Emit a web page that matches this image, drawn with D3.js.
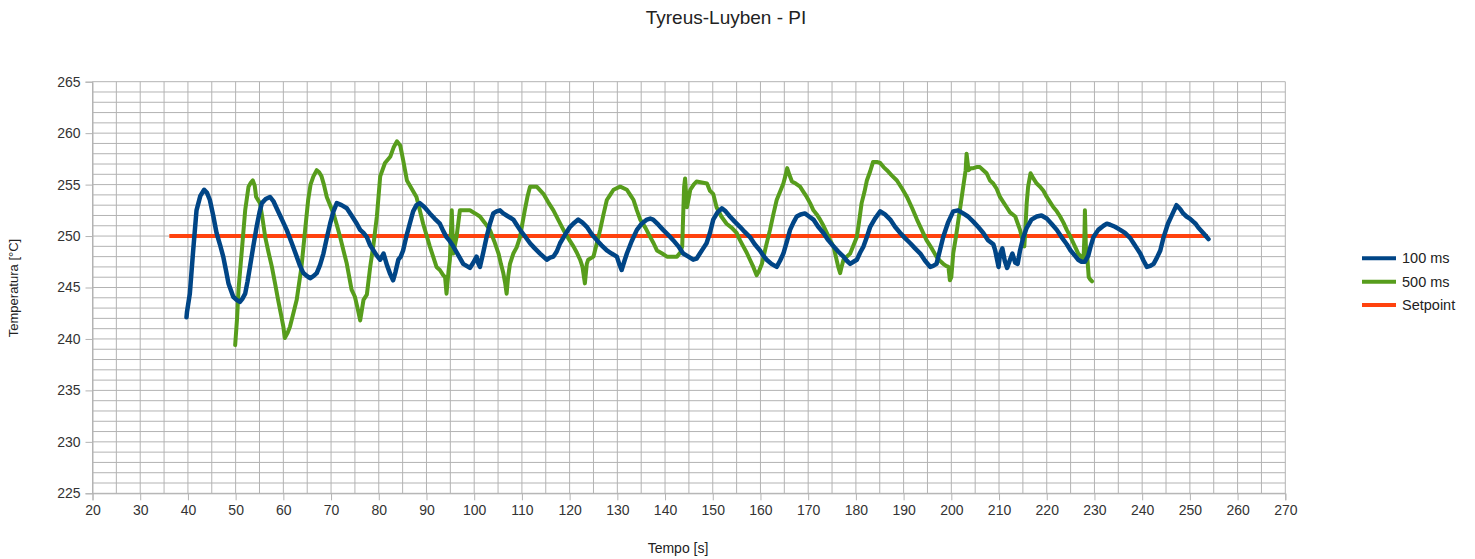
<!DOCTYPE html>
<html>
<head>
<meta charset="utf-8">
<script src="https://cdn.jsdelivr.net/npm/d3@7/dist/d3.min.js"></script>
<style>
  html, body { margin: 0; padding: 0; background: #fff; }
  svg { display: block; font-family: "Liberation Sans", Arial, sans-serif; }
</style>
</head>
<body>
<svg id="chart" width="1475" height="559"></svg>
<script>
// Measured temperature response, 100 ms sampling
const time100 = [39.7, 39.8, 40.4, 41.1, 41.8, 42.6, 43.4, 44.0, 44.6, 45.3, 46.0, 46.7, 47.4, 48.0, 48.5, 49.5, 50.2, 50.9, 51.4, 52.0, 52.5, 53.0, 53.7, 54.4, 55.0, 55.5, 56.3, 57.2, 57.9, 58.6, 59.6, 60.7, 61.7, 62.8, 63.5, 64.2, 65.0, 65.6, 66.3, 67.0, 67.7, 68.4, 69.1, 69.8, 70.5, 71.2, 72.2, 73.3, 74.3, 75.4, 76.1, 76.8, 77.5, 78.2, 78.9, 79.6, 80.3, 81.0, 81.7, 82.4, 83.0, 83.5, 84.1, 84.6, 85.1, 85.8, 86.5, 87.2, 87.9, 88.6, 89.6, 90.7, 91.7, 92.8, 93.5, 94.2, 94.9, 95.6, 96.6, 97.7, 98.4, 99.1, 99.8, 100.5, 100.9, 101.2, 101.9, 102.6, 103.3, 104.0, 104.7, 105.4, 106.1, 106.8, 107.5, 108.2, 108.9, 109.6, 110.6, 111.7, 112.7, 113.8, 114.5, 115.2, 115.9, 116.6, 117.3, 118.0, 119.0, 120.1, 121.0, 121.8, 122.7, 123.6, 124.6, 125.7, 126.7, 127.8, 128.8, 129.9, 130.4, 130.9, 131.5, 132.0, 133.0, 134.1, 135.1, 136.2, 136.9, 137.5, 138.6, 139.6, 140.7, 141.7, 142.8, 143.8, 144.9, 145.9, 146.6, 147.3, 148.0, 148.7, 149.4, 150.1, 151.0, 151.9, 152.7, 153.6, 154.6, 155.7, 156.7, 157.8, 158.8, 159.9, 160.6, 161.3, 162.3, 163.4, 164.1, 164.8, 165.5, 166.2, 166.9, 167.6, 168.4, 169.3, 170.2, 171.1, 172.1, 173.2, 174.2, 175.3, 176.3, 177.4, 178.1, 178.8, 179.5, 180.2, 180.9, 181.6, 182.3, 183.0, 184.0, 185.1, 186.1, 187.2, 188.2, 189.3, 190.3, 191.4, 192.4, 193.5, 194.5, 195.6, 196.2, 196.9, 197.6, 198.3, 199.3, 200.4, 201.4, 202.5, 203.5, 204.6, 205.6, 206.7, 207.7, 208.8, 209.2, 209.9, 210.2, 210.7, 211.2, 211.7, 212.3, 212.8, 213.4, 213.9, 214.4, 215.1, 215.8, 216.8, 217.9, 218.9, 220.0, 221.0, 222.1, 223.1, 224.2, 225.0, 225.9, 226.6, 227.3, 228.0, 228.7, 229.2, 229.8, 230.8, 231.9, 232.6, 233.3, 234.3, 235.4, 236.4, 237.5, 238.2, 238.9, 239.6, 240.3, 241.0, 241.7, 242.4, 243.1, 243.8, 244.5, 245.4, 246.4, 247.2, 248.0, 248.6, 249.3, 250.0, 250.7, 251.2, 251.8, 252.8, 253.9];
const temp100 = [242.1, 242.6, 244.4, 248.6, 252.5, 253.9, 254.5, 254.2, 253.5, 252.0, 250.3, 249.2, 248.0, 246.6, 245.4, 244.1, 243.8, 243.6, 243.9, 244.4, 245.6, 247.0, 249.0, 250.9, 252.3, 253.2, 253.6, 253.8, 253.4, 252.7, 251.7, 250.6, 249.4, 248.0, 247.1, 246.4, 246.1, 245.9, 246.1, 246.4, 247.2, 248.3, 249.8, 251.2, 252.4, 253.2, 253.0, 252.7, 252.0, 251.2, 250.6, 250.3, 249.9, 249.1, 248.6, 248.1, 247.7, 248.3, 247.2, 246.3, 245.7, 246.5, 247.7, 248.0, 248.6, 250.0, 251.2, 252.4, 253.0, 253.2, 252.8, 252.2, 251.7, 251.2, 250.5, 249.9, 249.5, 249.0, 248.2, 247.3, 247.1, 246.9, 247.4, 248.0, 247.3, 247.0, 248.4, 249.9, 251.2, 252.2, 252.4, 252.5, 252.2, 252.0, 251.8, 251.6, 251.1, 250.6, 250.0, 249.3, 248.8, 248.3, 248.0, 247.7, 247.9, 248.0, 248.5, 249.3, 250.1, 250.9, 251.3, 251.6, 251.3, 250.9, 250.2, 249.6, 249.1, 248.6, 248.3, 248.0, 247.3, 246.7, 247.6, 248.3, 249.5, 250.6, 251.2, 251.6, 251.7, 251.6, 251.1, 250.6, 250.1, 249.6, 249.0, 248.3, 248.0, 247.7, 247.8, 248.3, 248.8, 249.3, 250.3, 251.6, 252.3, 252.7, 252.4, 251.9, 251.4, 250.9, 250.4, 249.9, 249.2, 248.6, 248.1, 247.7, 247.3, 247.0, 247.6, 248.3, 249.4, 250.6, 251.3, 251.9, 252.1, 252.2, 251.9, 251.6, 250.9, 250.3, 249.6, 249.0, 248.5, 248.0, 247.6, 247.3, 247.5, 247.7, 248.4, 249.0, 249.9, 250.9, 251.7, 252.4, 252.1, 251.6, 250.9, 250.3, 249.8, 249.3, 248.8, 248.3, 247.6, 247.0, 247.1, 247.3, 248.6, 249.9, 251.3, 252.4, 252.5, 252.2, 251.9, 251.4, 250.9, 250.3, 249.6, 249.2, 248.6, 247.0, 248.2, 248.8, 247.6, 246.9, 247.7, 248.3, 247.4, 247.3, 248.6, 249.9, 250.8, 251.6, 251.9, 252.0, 251.7, 251.2, 250.6, 249.9, 249.2, 248.6, 248.1, 247.7, 247.5, 247.5, 248.1, 249.0, 249.9, 250.6, 251.0, 251.2, 251.1, 250.9, 250.6, 250.3, 249.8, 249.3, 248.8, 248.3, 247.6, 247.0, 247.1, 247.3, 247.9, 248.6, 249.9, 251.2, 252.2, 253.0, 252.6, 252.2, 251.9, 251.7, 251.4, 251.2, 250.8, 250.3, 249.7, 249.0];

// Measured temperature response, 500 ms sampling
const time500 = [49.9, 50.3, 50.6, 51.3, 52.0, 52.7, 53.2, 53.6, 54.0, 54.3, 55.1, 55.6, 56.2, 56.9, 57.6, 58.3, 58.9, 59.5, 60.0, 60.3, 60.9, 61.4, 62.1, 62.8, 63.3, 63.8, 64.5, 65.2, 65.7, 66.3, 67.0, 67.5, 68.0, 68.5, 69.1, 70.5, 71.2, 71.9, 72.6, 73.3, 74.3, 75.0, 75.6, 76.1, 76.8, 77.5, 78.2, 78.9, 79.6, 80.3, 81.3, 82.4, 83.1, 83.8, 84.5, 85.1, 85.9, 86.9, 87.9, 88.6, 89.3, 90.7, 91.4, 92.1, 92.8, 93.5, 93.9, 94.2, 94.6, 94.9, 95.3, 95.6, 96.3, 97.0, 98.0, 99.1, 100.2, 101.2, 102.2, 103.3, 104.2, 105.1, 105.6, 106.1, 106.5, 106.8, 107.1, 107.5, 108.2, 108.9, 109.6, 110.1, 110.6, 111.2, 111.7, 112.4, 113.1, 114.5, 115.5, 116.6, 117.7, 118.7, 119.7, 120.8, 121.5, 122.2, 122.7, 123.2, 123.6, 123.9, 125.0, 125.7, 126.4, 127.1, 127.8, 128.5, 129.2, 130.6, 132.0, 132.7, 133.4, 134.1, 134.8, 135.9, 136.9, 137.6, 138.3, 139.4, 140.4, 141.5, 142.5, 143.2, 143.6, 143.8, 144.0, 144.2, 144.6, 145.3, 146.0, 146.6, 147.7, 148.8, 149.4, 150.1, 150.8, 151.8, 152.9, 154.0, 155.0, 155.7, 156.4, 157.1, 157.8, 158.5, 159.2, 159.7, 160.3, 161.1, 162.0, 162.7, 163.4, 164.1, 164.8, 165.2, 165.6, 166.1, 166.6, 167.4, 168.3, 169.0, 169.7, 170.4, 171.1, 171.8, 172.5, 173.2, 173.9, 174.6, 175.3, 175.8, 176.3, 176.7, 177.0, 177.4, 178.1, 178.8, 179.5, 180.2, 180.7, 181.2, 181.8, 182.3, 183.0, 183.6, 184.4, 185.1, 185.8, 186.5, 187.5, 188.6, 189.7, 190.7, 191.8, 192.8, 193.8, 194.8, 195.9, 196.9, 197.6, 198.3, 198.9, 199.4, 199.7, 200.0, 200.4, 201.0, 201.5, 202.0, 202.5, 203.0, 203.2, 203.6, 204.1, 204.6, 205.3, 206.0, 206.7, 207.4, 208.1, 208.8, 209.5, 210.2, 210.9, 211.6, 212.3, 213.4, 214.4, 215.1, 215.3, 215.5, 215.8, 216.1, 216.6, 217.2, 217.9, 218.6, 219.3, 220.0, 220.7, 221.4, 222.1, 222.8, 223.5, 224.2, 224.9, 225.6, 226.1, 226.6, 227.2, 227.7, 227.9, 228.0, 228.2, 228.4, 228.8, 229.1, 229.5, 229.8];
const temp500 = [239.4, 242.0, 244.8, 248.6, 252.5, 254.8, 255.2, 255.4, 254.9, 253.8, 253.2, 251.8, 249.9, 248.4, 247.0, 245.3, 243.8, 242.4, 241.2, 240.1, 240.6, 241.2, 242.5, 243.8, 245.4, 247.0, 250.3, 253.5, 255.0, 255.8, 256.4, 256.2, 255.8, 255.0, 253.8, 252.2, 251.1, 249.9, 248.6, 247.3, 244.8, 244.1, 242.9, 241.8, 243.8, 244.3, 247.0, 249.2, 251.9, 255.8, 257.1, 257.7, 258.6, 259.2, 258.8, 257.4, 255.4, 254.6, 253.8, 252.5, 251.2, 249.0, 248.0, 247.0, 246.7, 246.2, 246.0, 244.4, 246.5, 247.7, 252.5, 248.3, 249.9, 252.5, 252.5, 252.5, 252.2, 251.9, 251.3, 250.6, 249.5, 248.3, 247.3, 246.4, 245.4, 244.4, 246.0, 247.3, 248.3, 248.9, 249.9, 251.2, 252.5, 253.9, 254.8, 254.8, 254.8, 254.1, 253.3, 252.5, 251.5, 250.6, 249.8, 249.0, 248.4, 247.7, 247.0, 245.4, 247.3, 247.7, 248.0, 249.3, 250.6, 252.1, 253.5, 254.0, 254.5, 254.8, 254.5, 254.0, 253.5, 252.5, 251.6, 250.8, 249.9, 249.3, 248.6, 248.3, 248.0, 248.0, 248.0, 248.4, 249.0, 252.0, 254.8, 255.6, 252.8, 254.5, 255.0, 255.3, 255.2, 255.1, 254.4, 254.1, 252.8, 251.9, 251.2, 250.8, 250.3, 249.6, 249.0, 248.4, 247.7, 247.0, 246.2, 246.6, 247.3, 248.9, 250.6, 252.1, 253.5, 254.3, 255.1, 255.8, 256.6, 255.9, 255.3, 255.1, 254.8, 254.3, 253.8, 253.2, 252.5, 252.1, 251.6, 251.0, 250.3, 249.6, 249.0, 248.0, 247.0, 246.4, 247.0, 247.7, 248.0, 248.3, 249.1, 249.9, 251.5, 253.2, 254.3, 255.4, 256.3, 257.2, 257.2, 257.1, 256.7, 256.4, 255.9, 255.4, 254.6, 253.8, 252.7, 251.6, 250.6, 249.6, 248.8, 248.0, 247.6, 247.3, 247.1, 247.0, 245.7, 246.0, 248.3, 250.0, 251.6, 253.2, 254.8, 256.4, 258.0, 256.4, 256.6, 256.6, 256.7, 256.7, 256.4, 256.1, 255.4, 255.1, 254.6, 253.8, 253.3, 252.8, 252.3, 251.9, 250.6, 249.3, 249.0, 250.5, 253.2, 254.8, 256.1, 255.6, 255.1, 254.8, 254.4, 253.8, 253.3, 252.8, 252.4, 251.9, 251.3, 250.6, 250.0, 249.3, 248.8, 248.3, 248.0, 247.7, 250.0, 252.5, 249.0, 248.6, 246.0, 245.8, 245.6];

// Setpoint reference
const timeSetpoint = [36.1, 253.8];
const tempSetpoint = [250, 250];

// Axis ticks and labels
const xTicks = d3.range(20, 271, 10);
const yTicks = d3.range(225, 266, 5);
const xGrid = d3.range(20, 271, 5);
const yGrid = d3.range(225, 266, 1);

const seriesNames = ["100 ms", "500 ms", "Setpoint"];
const seriesColors = ["#004586", "#579d1c", "#ff420e"];

const svg = d3.select("#chart");
const plotLeft = 92.5, plotRight = 1285.3, plotTop = 81.7, plotBottom = 493.3;

const x = d3.scaleLinear().domain([20, 270]).range([plotLeft, plotRight]);
const y = d3.scaleLinear().domain([225, 265]).range([plotBottom, plotTop]);

// Grid
const grid = svg.append("g").attr("stroke", "#b3b3b3").attr("stroke-width", 1);
grid.selectAll("line.h").data(yGrid).join("line").attr("class", "h")
  .attr("x1", plotLeft).attr("x2", plotRight)
  .attr("y1", d => y(d)).attr("y2", d => y(d));
grid.selectAll("line.v").data(xGrid).join("line").attr("class", "v")
  .attr("y1", plotTop).attr("y2", plotBottom)
  .attr("x1", d => x(d)).attr("x2", d => x(d));

// Axes
const xAxis = d3.axisBottom(x).tickValues(xTicks).tickSize(7).tickPadding(5).tickFormat(d3.format("d"));
const yAxis = d3.axisLeft(y).tickValues(yTicks).tickSize(7).tickPadding(5).tickFormat(d3.format("d"));

const gx = svg.append("g").attr("transform", `translate(0,${plotBottom})`).call(xAxis);
const gy = svg.append("g").attr("transform", `translate(${plotLeft},0)`).call(yAxis);
[gx, gy].forEach(g => {
  g.select(".domain").attr("stroke", "#b3b3b3");
  g.selectAll(".tick line").attr("stroke", "#b3b3b3");
  g.selectAll(".tick text").attr("fill", "#333").style("font-size", "14px")
    .style("font-family", "'Liberation Sans', Arial, sans-serif");
});

// Series
const line = d3.line().x(d => x(d[0])).y(d => y(d[1]));
const zip = (a, b) => a.map((v, i) => [v, b[i]]);

svg.append("path").datum(zip(timeSetpoint, tempSetpoint))
  .attr("d", line).attr("fill", "none")
  .attr("stroke", seriesColors[2]).attr("stroke-width", 4);

svg.append("path").datum(zip(time500, temp500))
  .attr("d", line).attr("fill", "none")
  .attr("stroke", seriesColors[1]).attr("stroke-width", 4)
  .attr("stroke-linejoin", "round").attr("stroke-linecap", "round");

svg.append("path").datum(zip(time100, temp100))
  .attr("d", line).attr("fill", "none")
  .attr("stroke", seriesColors[0]).attr("stroke-width", 4.5)
  .attr("stroke-linejoin", "round").attr("stroke-linecap", "round");

// Title and axis titles
svg.append("text").attr("x", 726).attr("y", 23.5).attr("text-anchor", "middle")
  .attr("fill", "#222").style("font-size", "19px").text("Tyreus-Luyben - PI");
svg.append("text").attr("x", 678).attr("y", 553).attr("text-anchor", "middle")
  .attr("fill", "#222").style("font-size", "14px").text("Tempo [s]");
svg.append("text").attr("transform", `translate(17.5,288) rotate(-90)`)
  .attr("text-anchor", "middle").attr("fill", "#222").style("font-size", "13px")
  .text("Temperatura [°C]");

// Legend
const legend = svg.append("g");
const legendY = [258.3, 281.7, 305];
seriesNames.forEach((name, i) => {
  legend.append("line").attr("x1", 1362).attr("x2", 1396)
    .attr("y1", legendY[i]).attr("y2", legendY[i])
    .attr("stroke", seriesColors[i]).attr("stroke-width", 4);
  legend.append("text").attr("x", 1402).attr("y", legendY[i] + 5)
    .attr("fill", "#222").style("font-size", "14.5px").text(name);
});
</script>
</body>
</html>
